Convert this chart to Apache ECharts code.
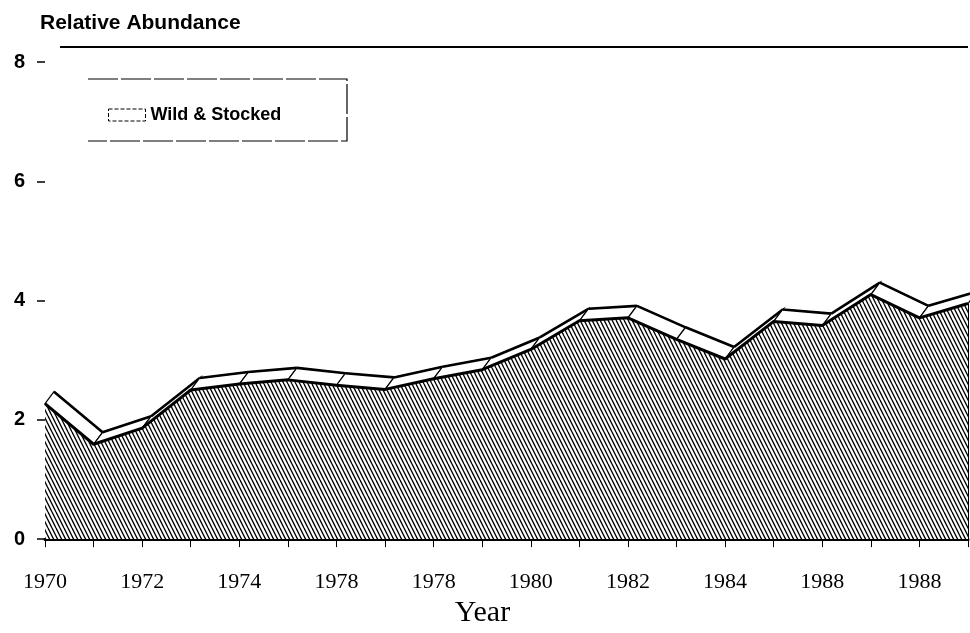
<!DOCTYPE html>
<html>
<head>
<meta charset="utf-8">
<script src="https://cdn.jsdelivr.net/npm/echarts@6/dist/echarts.min.js"></script>
<style>
html,body{margin:0;padding:0;background:#fff;}
#chart{width:970px;height:633px;}
</style>
</head>
<body>
<div id="chart"></div>
<script>
// ---- data ----
var years = ['1970','1971','1972','1973','1974','1975','1976','1977','1978','1979',
             '1980','1981','1982','1983','1984','1985','1986','1987','1988','1989'];
var tickLabels = ['1970','1972','1974','1978','1978','1980','1982','1984','1988','1988'];
var abundance = [2.27,1.59,1.86,2.50,2.60,2.67,2.58,2.51,2.69,2.84,
                 3.18,3.66,3.71,3.35,3.02,3.65,3.58,4.10,3.71,3.95];
var yTicks = [0,2,4,6,8];
var seriesName = 'Wild & Stocked';

// hatch pattern
function makeHatch(){
  var c = document.createElement('canvas');
  c.width = 8; c.height = 16;
  var ctx = c.getContext('2d');
  ctx.fillStyle = '#fff'; ctx.fillRect(0,0,8,16);
  ctx.strokeStyle = '#000'; ctx.lineWidth = 1.35;
  for (var k=-4;k<=4;k++){
    ctx.beginPath();
    ctx.moveTo(k*4,0); ctx.lineTo(k*4+8,16);
    ctx.stroke();
  }
  return c;
}

var ribbonData = [];
for (var i=0;i<abundance.length;i++){
  var j = Math.min(i+1, abundance.length-1);
  ribbonData.push([i, abundance[i], j, abundance[j]]);
}
var DX = 9, DY = -12;

var chart = echarts.init(document.getElementById('chart'));
chart.setOption({
  animation:false,
  backgroundColor:'#fff',
  title:{text:'Relative Abundance', left:40, top:13, padding:0,
    textStyle:{fontFamily:'Liberation Sans, Arial', fontWeight:'bold', fontSize:21, color:'#000'}},
  legend:{
    left:108, top:106, padding:0, itemWidth:37, itemHeight:12, itemGap:7,
    data:[{name:seriesName, icon:'rect',
      itemStyle:{color:'#fff', borderColor:'#000', borderWidth:1, borderType:'dashed'}}],
    textStyle:{fontFamily:'Liberation Sans, Arial', fontWeight:'bold', fontSize:18, color:'#000'}
  },
  graphic:[
    {type:'line', shape:{x1:60,y1:47,x2:968,y2:47}, style:{stroke:'#000', lineWidth:1.8}},
    {type:'polyline', shape:{points:[[88,79],[347,79],[347,141],[88,141]]},
      style:{fill:'none', stroke:'#000', lineWidth:1.2, lineDash:[30,3]}}
  ],
  grid:{left:45, right:2, top:62, bottom:89, containLabel:false},
  xAxis:{
    type:'category', data:years, boundaryGap:false,
    name:'Year', nameLocation:'middle', nameGap:58,
    nameTextStyle:{fontFamily:'Liberation Serif, Times New Roman', fontSize:30, color:'#000', padding:[0,48,0,0]},
    axisLine:{show:true, lineStyle:{color:'#000', width:3}},
    axisTick:{show:true, interval:0, length:8, lineStyle:{color:'#000', width:1}},
    axisLabel:{interval:1, margin:32, color:'#000',
      fontFamily:'Liberation Serif, Times New Roman', fontSize:22,
      formatter:function(v, idx){ return tickLabels[idx/2] || v; }},
    splitLine:{show:false}
  },
  yAxis:{
    type:'value', min:yTicks[0], max:yTicks[yTicks.length-1], interval:2,
    axisLine:{show:false},
    axisTick:{show:true, length:8, lineStyle:{color:'#000', width:1.5}},
    axisLabel:{margin:20, color:'#000', fontFamily:'Liberation Sans, Arial', fontWeight:'bold', fontSize:20},
    splitLine:{show:false}
  },
  series:[
    {
      type:'custom', name:seriesName, z:2, clip:false,
      itemStyle:{color:'#fff', borderColor:'#000'},
      data:ribbonData,
      encode:{x:[0,2], y:[1,3]},
      renderItem:function(params, api){
        var i0 = api.value(0), i1 = api.value(2);
        var p0 = api.coord([i0, api.value(1)]);
        var children = [];
        if (i1 !== i0){
          var p1 = api.coord([i1, api.value(3)]);
          var b0 = [p0[0]+DX, p0[1]+DY], b1 = [p1[0]+DX, p1[1]+DY];
          children.push({type:'polygon', shape:{points:[p0,p1,b1,b0]},
            style:{fill:'#fff', stroke:'#000', lineWidth:1.2}});
          children.push({type:'polyline', shape:{points:[b0,b1]},
            style:{fill:null, stroke:'#000', lineWidth:2.6}});
        } else {
          var base = api.coord([i0, 0]);
          children.push({type:'line', shape:{x1:p0[0],y1:p0[1],x2:base[0],y2:base[1]},
            style:{stroke:'#000', lineWidth:2}});
        }
        return {type:'group', children:children};
      }
    },
    {
      type:'line', name:'front', z:3, data:abundance, symbol:'none',
      lineStyle:{color:'#000', width:3},
      areaStyle:{color:{image:makeHatch(), repeat:'repeat'}, opacity:1},
      silent:true
    }
  ]
});
</script>
</body>
</html>
